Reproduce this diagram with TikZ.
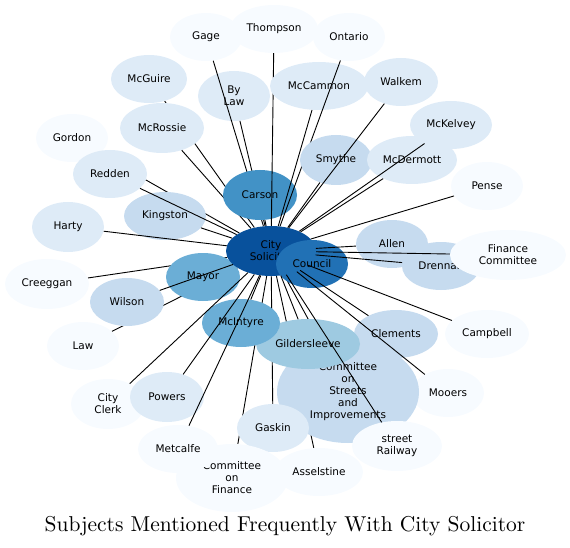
\documentclass[tikz,border=0pt]{standalone}
\usepackage{fontspec}
\newfontfamily\labelfont{DejaVu Sans}
\newfontfamily\titlefont{lmroman10-regular.otf}
\usepackage{tikz}
\usetikzlibrary{shapes.geometric}
\pgfdeclarelayer{back}
\pgfsetlayers{back,main}
\definecolor{blues1}{HTML}{F7FBFF}
\definecolor{blues2}{HTML}{DEEBF7}
\definecolor{blues3}{HTML}{C6DBEF}
\definecolor{blues4}{HTML}{9ECAE1}
\definecolor{blues5}{HTML}{6BAED6}
\definecolor{blues6}{HTML}{4292C6}
\definecolor{blues7}{HTML}{2171B5}
\definecolor{blues8}{HTML}{08519C}
\tikzset{
  subj/.style={ellipse,draw=none,fill=blues1,inner sep=0pt,align=center,
    font=\labelfont\fontsize{10.5}{12}\selectfont,
    minimum width=72pt,minimum height=48pt},
  link/.style={draw=black,line width=0.9pt},
  caption/.style={font=\titlefont\fontsize{21.5}{26}\selectfont}
}
\begin{document}
\begin{tikzpicture}[x=1pt,y=-1pt]
\useasboundingbox (0,0) rectangle (570,548);
\node[subj,fill=blues5,minimum width=74pt] (mayor) at (203,277) {Mayor};
\node[subj,fill=blues8,minimum width=90pt,minimum height=50pt] (cs) at (271,251) {City\\Solicitor};
\node[subj,fill=blues7] (council) at (312,264) {Council};
% north-west
\node[subj] (gordon) at (72,138) {Gordon};
\node[subj,fill=blues2,minimum width=74pt] (redden) at (110,174) {Redden};
\node[subj,fill=blues3,minimum width=82pt] (kingston) at (165,216) {Kingston};
\draw[link] (cs) -- (redden);
\node[subj,fill=blues2,minimum height=50pt] (harty) at (68,227) {Harty};
\draw[link] (cs) -- (harty);
\draw[link] (cs) -- (kingston);
\node[subj,fill=blues2,minimum width=76pt] (mcguire) at (149,79) {McGuire};
\node[subj,fill=blues2,minimum width=84pt,minimum height=50pt] (mcrossie) at (162,128) {McRossie};
\draw[link] (cs) -- (mcrossie);
\node[subj] (gage) at (206,37) {Gage};
\node[subj,fill=blues2,minimum height=50pt] (bylaw) at (234,96) {By\\Law};
\draw[link] (cs) -- (gage);
\draw[link] (cs) -- (bylaw);
\node[subj,fill=blues6,minimum width=74pt,minimum height=50pt] (carson) at (260,195) {Carson};
\draw[link] (cs) -- (carson);
% north-east
\node[subj,minimum width=88pt] (thompson) at (274,29) {Thompson};
\draw[link] (cs) -- (thompson);
\node[subj,fill=blues2,minimum width=98pt] (mccammon) at (319,86) {McCammon};
\draw[link] (cs) -- (mccammon);
\node[subj] (ontario) at (349,37) {Ontario};
\draw[link] (cs) -- (ontario);
\node[subj,fill=blues3,minimum height=50pt] (smythe) at (336,160) {Smythe};
\draw[link] (cs) -- (smythe);
\node[subj,fill=blues2,minimum width=74pt] (walkem) at (401,82) {Walkem};
\draw[link] (cs) -- (walkem);
\node[subj,fill=blues2,minimum width=90pt] (mcdermott) at (412,160) {McDermott};
\draw[link] (cs) -- (mcdermott);
\node[subj,fill=blues2,minimum width=82pt] (mckelvey) at (451,125) {McKelvey};
\draw[link] (cs) -- (mckelvey);
\node[subj] (pense) at (487,186) {Pense};
\draw[link] (cs) -- (pense);
% east
\node[subj,fill=blues3,minimum width=78pt] (drennan) at (441,266) {Drennan};
\node[subj,fill=blues3] (allen) at (392,244) {Allen};
\draw[link] (cs) -- (allen);
\draw[link] (cs) -- (drennan);
\node[subj,minimum width=116pt,minimum height=50pt] (fincom) at (508,255) {Finance\\Committee};
\draw[link] (cs) -- (fincom);
\node[subj,minimum width=84pt] (campbell) at (487,334) {Campbell};
\draw[link] (cs) -- (campbell);
\node[subj,fill=blues3,minimum width=84pt] (clements) at (396,334) {Clements};
\draw[link] (cs) -- (clements);
\node[subj] (mooers) at (448,393) {Mooers};
\draw[link] (cs) -- (mooers);
% south
\node[subj,minimum width=88pt] (asselstine) at (319,472) {Asselstine};
\node[subj,fill=blues3,minimum width=142pt,minimum height=102pt] (streets) at (348,392) {Committee\\on\\Streets\\and\\Improvements};
\node[subj,fill=blues2] (gaskin) at (273,428) {Gaskin};
\node[subj,fill=blues4,minimum width=104pt,minimum height=50pt] (gildersleeve) at (308,344) {Gildersleeve};
\draw[link] (cs) -- (gildersleeve);
\node[subj,minimum width=90pt,minimum height=50pt] (railway) at (397,446) {street\\Railway};
\draw[link] (cs) -- (railway);
\node[subj,minimum width=112pt,minimum height=68pt] (finance) at (232,478) {Committee\\on\\Finance};
\node[subj,fill=blues5,minimum width=78pt] (mcintyre) at (241,323) {McIntyre};
\draw[link] (cs) -- (mcintyre);
% south-west
\node[subj,minimum width=74pt,minimum height=50pt] (clerk) at (108,404) {City\\Clerk};
\draw[link] (cs) -- (clerk);
\node[subj,fill=blues2,minimum width=74pt,minimum height=50pt] (powers) at (167,397) {Powers};
\draw[link] (cs) -- (powers);
\node[subj,minimum width=80pt] (metcalfe) at (178,449) {Metcalfe};
\draw[link] (cs) -- (metcalfe);
\node[subj,minimum width=84pt,minimum height=50pt] (creeggan) at (47,284) {Creeggan};
\node[subj] (law) at (83,346) {Law};
\node[subj,fill=blues3,minimum width=74pt] (wilson) at (127,302) {Wilson};
\draw[link] (cs) -- (wilson);
% links hidden behind other subjects
\begin{pgfonlayer}{back}
\draw[link] (cs) -- (gordon);
\draw[link] (cs) -- (mcguire);
\draw[link] (cs) -- (creeggan);
\draw[link] (cs) -- (law);
\draw[link] (cs) -- (asselstine);
\draw[link] (cs) -- (gaskin);
\draw[link] (cs) -- (streets);
\draw[link] (cs) -- (finance);
\end{pgfonlayer}
\node[caption] (title) at (285,526) {Subjects Mentioned Frequently With City Solicitor};
\end{tikzpicture}
\end{document}
